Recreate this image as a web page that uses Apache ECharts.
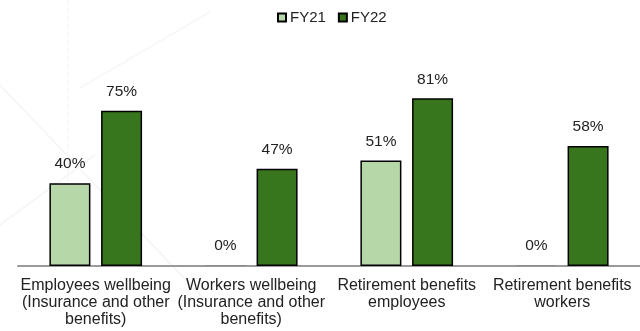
<!DOCTYPE html>
<html>
<head>
<meta charset="utf-8">
<script src="https://cdn.jsdelivr.net/npm/echarts@6/dist/echarts.min.js"></script>
<style>
  html, body { margin: 0; padding: 0; background: #fff; }
  #chart { width: 640px; height: 331px; }
</style>
</head>
<body>
<div id="chart"></div>
<script>
// Share of people covered by wellbeing and retirement benefits, FY21 vs FY22
const categories = [
  'Employees wellbeing\n(Insurance and other\nbenefits)',
  'Workers wellbeing\n(Insurance and other\nbenefits)',
  'Retirement benefits\nemployees',
  'Retirement benefits\nworkers'
];
const seriesNames = ['FY21', 'FY22'];
const fy21 = [40, 0, 51, 0];
const fy22 = [75, 47, 81, 58];

const FONT = '"Liberation Sans", Arial, sans-serif';
const TEXT = '#222';

// zero-valued bars show only as a thin grey outline along the axis
function barData(values) {
  return values.map(v => v === 0
    ? { value: v, itemStyle: { borderColor: '#8a8a8a', color: '#8a8a8a', borderWidth: 1 } }
    : v);
}

const chart = echarts.init(document.getElementById('chart'), null, { renderer: 'canvas' });

const barLabel = {
  show: true,
  position: 'top',
  distance: 11,
  formatter: p => p.value + '%',
  color: TEXT,
  fontFamily: FONT,
  fontSize: 15.5
};

chart.setOption({
  animation: false,
  backgroundColor: '#fff',
  textStyle: { fontFamily: FONT },
  // faint background ornament
  graphic: [
    { type: 'line', silent: true, z: -10, shape: { x1: 68, y1: 0, x2: 68, y2: 215 },
      style: { stroke: '#f3f3f3', lineWidth: 1, lineDash: [5, 3] } },
    { type: 'line', silent: true, z: -10, shape: { x1: 0, y1: 85, x2: 205, y2: 300 },
      style: { stroke: '#f4f4f4', lineWidth: 1.5 } },
    { type: 'line', silent: true, z: -10, shape: { x1: 0, y1: 225, x2: 95, y2: 155 },
      style: { stroke: '#f4f4f4', lineWidth: 1.5 } },
    { type: 'line', silent: true, z: -10, shape: { x1: 210, y1: 12, x2: 80, y2: 88 },
      style: { stroke: '#f7f7f7', lineWidth: 1.5 } }
  ],
  legend: {
    data: seriesNames,
    left: 272,
    top: 5,
    icon: 'rect',
    itemWidth: 8,
    itemHeight: 8,
    itemGap: 12,
    textStyle: { color: TEXT, fontFamily: FONT, fontSize: 15, padding: [0, 0, 0, -1] }
  },
  grid: { left: 18, width: 624, top: 59, height: 207, containLabel: false },
  xAxis: {
    type: 'category',
    data: categories,
    axisLine: { show: true, lineStyle: { color: '#9a9a9a', width: 2 } },
    axisTick: { show: false },
    axisLabel: {
      interval: 0,
      margin: 11,
      color: TEXT,
      fontFamily: FONT,
      fontSize: 16,
      lineHeight: 17,
      align: 'center'
    }
  },
  yAxis: {
    type: 'value',
    min: 0,
    max: 100,
    show: false,
    splitLine: { show: false }
  },
  series: [
    {
      name: seriesNames[0],
      type: 'bar',
      data: barData(fy21),
      barWidth: 41,
      barGap: '26%',
      barMinHeight: 1,
      itemStyle: { color: '#b6d7a8', borderColor: '#000', borderWidth: 1.5 },
      label: barLabel
    },
    {
      name: seriesNames[1],
      type: 'bar',
      data: barData(fy22),
      barWidth: 41,
      itemStyle: { color: '#38761d', borderColor: '#000', borderWidth: 1.5 },
      label: barLabel
    }
  ]
});
</script>
</body>
</html>
